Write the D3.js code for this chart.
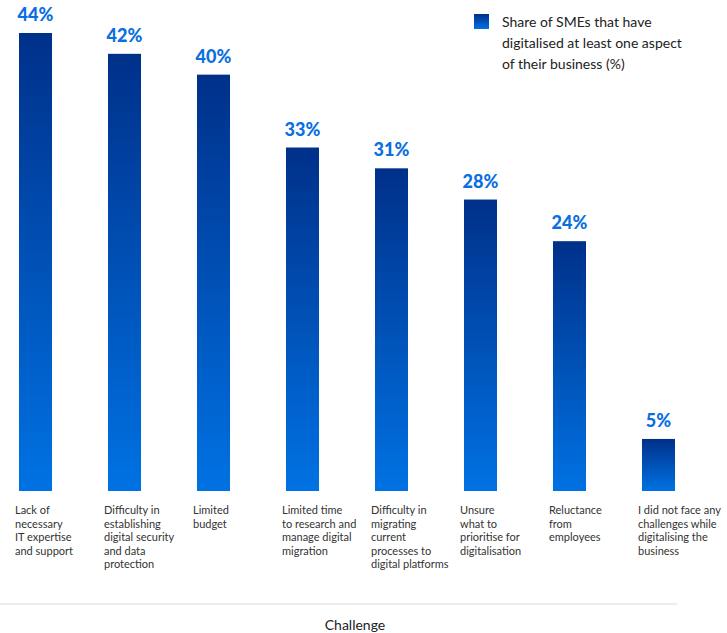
<!DOCTYPE html>
<html>
<head>
<meta charset="utf-8">
<script src="https://cdn.jsdelivr.net/npm/d3@7"></script>
<style>
    body { margin: 0; background: #fff; }
    svg { display: block; font-family: Lato, "Open Sans", sans-serif; }
</style>
</head>
<body>
<div id="chart"></div>
<script>
const categories = [
    ["Lack of", "necessary", "IT expertise", "and support"],
    ["Difficulty in", "establishing", "digital security", "and data", "protection"],
    ["Limited", "budget"],
    ["Limited time", "to research and", "manage digital", "migration"],
    ["Difficulty in", "migrating", "current", "processes to", "digital platforms"],
    ["Unsure", "what to", "prioritise for", "digitalisation"],
    ["Reluctance", "from", "employees"],
    ["I did not face any", "challenges while", "digitalising the", "business"]
];
const values = [44, 42, 40, 33, 31, 28, 24, 5];
const legendLines = ["Share of SMEs that have", "digitalised at least one aspect", "of their business (%)"];
const axisTitle = "Challenge";

const width = 727, height = 633;
const baseY = 491;

const svg = d3.select("#chart").append("svg")
    .attr("width", width)
    .attr("height", height);

const grad = svg.append("defs").append("linearGradient")
    .attr("id", "barGrad")
    .attr("x1", 0).attr("y1", 0).attr("x2", 0).attr("y2", 1);
grad.append("stop").attr("offset", "0%").attr("stop-color", "#00308a");
grad.append("stop").attr("offset", "100%").attr("stop-color", "#0072e3");

const keys = categories.map((d, i) => i);

const x = d3.scaleBand()
    .domain(keys)
    .range([19, 675])
    .paddingInner(0.629)
    .paddingOuter(0);

const y = d3.scaleLinear()
    .domain([0, 44])
    .range([baseY, 33]);

// bars
svg.selectAll(".bar")
    .data(values)
    .enter().append("rect")
    .attr("class", "bar")
    .attr("x", (d, i) => x(i))
    .attr("y", d => y(d))
    .attr("width", x.bandwidth())
    .attr("height", d => baseY - y(d))
    .attr("fill", "url(#barGrad)");

// value labels
svg.selectAll(".val")
    .data(values)
    .enter().append("text")
    .attr("class", "val")
    .attr("x", (d, i) => x(i) + x.bandwidth() / 2)
    .attr("y", d => y(d) - 12)
    .attr("text-anchor", "middle")
    .attr("fill", "#0a6fe0")
    .attr("font-size", 18)
    .attr("font-weight", 900)
    .text(d => d + "%");

// category labels
const cat = svg.selectAll(".cat")
    .data(categories)
    .enter().append("text")
    .attr("class", "cat")
    .attr("x", (d, i) => x(i) - 4)
    .attr("y", 514)
    .attr("fill", "#333")
    .attr("font-size", 11);
cat.selectAll("tspan")
    .data(d => d)
    .enter().append("tspan")
    .attr("x", function () { return this.parentNode.getAttribute("x"); })
    .attr("dy", (d, i) => i === 0 ? 0 : 13.5)
    .text(d => d);

// baseline axis
svg.append("line")
    .attr("x1", 0).attr("x2", 677)
    .attr("y1", 604).attr("y2", 604)
    .attr("stroke", "#dcdcdc")
    .attr("stroke-width", 1);

svg.append("text")
    .attr("x", 355)
    .attr("y", 630)
    .attr("text-anchor", "middle")
    .attr("fill", "#222")
    .attr("font-size", 14)
    .text(axisTitle);

// legend
svg.append("rect")
    .attr("x", 474).attr("y", 14)
    .attr("width", 15).attr("height", 15)
    .attr("fill", "url(#barGrad)");
const leg = svg.append("text")
    .attr("x", 502)
    .attr("y", 27)
    .attr("fill", "#222")
    .attr("font-size", 14);
leg.selectAll("tspan")
    .data(legendLines)
    .enter().append("tspan")
    .attr("x", 502)
    .attr("dy", (d, i) => i === 0 ? 0 : 21)
    .text(d => d);
</script>
</body>
</html>
